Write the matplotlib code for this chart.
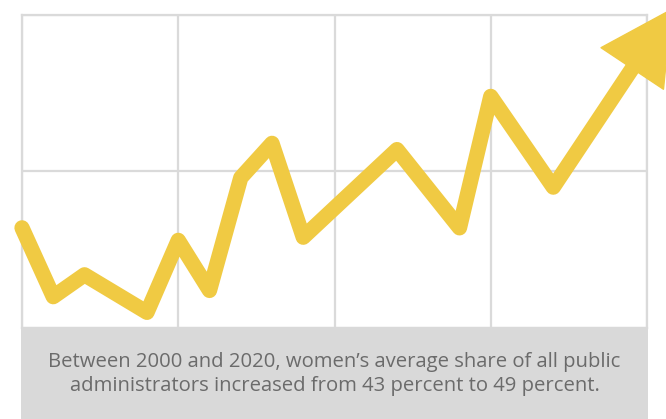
import matplotlib.pyplot as plt

# data (share of women among public administrators, %)
years = [2000, 2001, 2002, 2004, 2005, 2006, 2007, 2008, 2009, 2012, 2014, 2015, 2017, 2020]
share = [43.2, 41.0, 41.7, 40.5, 42.8, 41.2, 44.8, 45.9, 42.9, 45.7, 43.2, 47.4, 44.5, 49.0]
x_ticks = [2000, 2005, 2010, 2015, 2020]
y_ticks = [40, 45, 50]
caption = ("Between 2000 and 2020, women\u2019s average share of all public\n"
           "administrators increased from 43 percent to 49 percent.")

yellow = '#F0CA43'
grid_col = '#DADADA'

fig = plt.figure(figsize=(6.66, 4.19), dpi=100)
ax = fig.add_axes([22 / 666, 91 / 419, 625 / 666, 313 / 419])
ax.set_xlim(x_ticks[0], x_ticks[-1])
ax.set_ylim(y_ticks[0], y_ticks[-1])
ax.set_xticks(x_ticks)
ax.set_yticks(y_ticks)
ax.tick_params(length=0, labelbottom=False, labelleft=False)
ax.grid(True, color=grid_col, lw=1.6)
for s in ax.spines.values():
    s.set_color(grid_col)
    s.set_linewidth(1.6)

# caption box
box = fig.add_axes([21 / 666, 0, 627 / 666, 92 / 419])
box.set_facecolor('#D9D9D9')
box.set_xticks([])
box.set_yticks([])
for s in box.spines.values():
    s.set_visible(False)
box.text(0.5, 0.49, caption, ha='center', va='center', fontsize=14.6,
         color='#6B6B6B', family='Open Sans', linespacing=1.3,
         transform=box.transAxes)

# trend line
ax.plot(years, share, color=yellow, lw=11, solid_joinstyle='round',
        solid_capstyle='round', clip_on=False, zorder=5)

# arrow head continuing the last segment
f = 0.27
tip = (years[-1] + f * (years[-1] - years[-2]), share[-1] + f * (share[-1] - share[-2]))
ax.annotate('', xy=tip, xytext=(years[-2], share[-2]),
            arrowprops=dict(arrowstyle='-|>,head_length=51,head_width=27',
                            mutation_scale=1, color=yellow, lw=1,
                            shrinkA=0, shrinkB=0),
            annotation_clip=False, zorder=6)

fig.savefig('out.png', dpi=100)
